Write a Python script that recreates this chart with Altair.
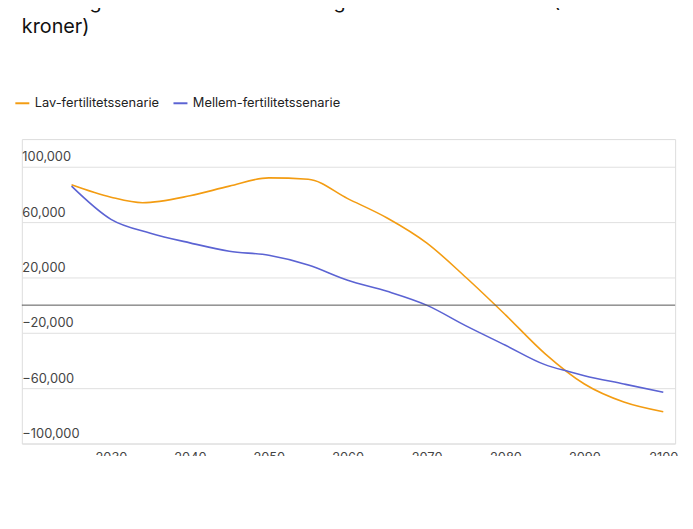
import altair as alt
import pandas as pd

years_low = [2025, 2030, 2034, 2040, 2045, 2050, 2055, 2060, 2065, 2070, 2075, 2080, 2085, 2090, 2095, 2100]
low = [87000, 78000, 74000, 79000, 86000, 92000, 91000, 77000, 63000, 45000, 20000, -7000, -35000, -57000, -70000, -77000]
years_mid = [2025, 2030, 2035, 2040, 2045, 2050, 2055, 2060, 2065, 2070, 2075, 2080, 2085, 2088, 2090, 2095, 2100]
mid = [86000, 62000, 52000, 45000, 39000, 36000, 29000, 18000, 10000, 0, -15000, -29000, -43000, -48000, -51000, -57000, -63000]

df = pd.concat([
    pd.DataFrame({"år": years_low, "v": low, "s": "Lav-fertilitetssenarie"}),
    pd.DataFrame({"år": years_mid, "v": mid, "s": "Mellem-fertilitetssenarie"}),
])

caption = ["Figur 4: Viser de mekaniske effekter på økonomien, når der fødes færre børn, i et lav- og mellem-fertilitetsscenarie. De",
           "mekaniske beregningerne bruges senere i DREAM-modellen."]

lines = alt.Chart(df).mark_line(strokeWidth=1.6, interpolate="monotone").encode(
    x=alt.X("år:Q", scale=alt.Scale(domain=[2018.7, 2101.5], nice=False, zero=False),
            axis=alt.Axis(values=[2030, 2040, 2050, 2060, 2070, 2080, 2090, 2100], format="d",
                          grid=False, ticks=False, domain=False, labelPadding=8,
                          labelFontSize=13, labelColor="#444",
                          title=caption, titleFontStyle="italic", titleFontWeight="normal",
                          titleFontSize=11, titleAnchor="start", titleAlign="left", titleX=0,
                          titleY=40, titleColor="#222", titleLineHeight=19)),
    y=alt.Y("v:Q", scale=alt.Scale(domain=[-100000, 120000], nice=False),
            axis=alt.Axis(values=list(range(-100000, 120001, 20000)), format=",d", title=None,
                          ticks=False, domain=False, labelAlign="left", labelBaseline="bottom",
                          labelPadding=0, labelOffset=-3, labelFontSize=13,
                          labelColor="#444", gridColor="#e0e0e0")),
    color=alt.Color("s:N", scale=alt.Scale(domain=["Lav-fertilitetssenarie", "Mellem-fertilitetssenarie"],
                                           range=["#F39C12", "#5B63D3"]),
                    legend=alt.Legend(title=None, orient="none", legendX=-8, legendY=-45,
                                      direction="horizontal", symbolType="stroke",
                                      symbolStrokeWidth=2, symbolSize=200, labelFontSize=13,
                                      labelColor="#222", columnPadding=10)),
)

zero = alt.Chart(pd.DataFrame({"v": [0]})).mark_rule(color="#555", strokeWidth=1).encode(y="v:Q")

chart = alt.layer(lines, zero).properties(
    width=661, height=308,
    autosize=alt.AutoSizeParams(type="none"),
    padding={"left": 14, "top": 130, "right": 10, "bottom": 10},
    title=alt.Title(["Offentlige finanser ved mellem- og lav-fertilitetsscenarie (Millioner", "kroner)"],
                    anchor="start", fontSize=20, fontWeight="normal", offset=58, lineHeight=26,
                    color="#111", frame="group"),
).configure_view(stroke=None).configure(font="Inter")

chart.save("out.html", embed_options={"renderer": "svg", "actions": False})
